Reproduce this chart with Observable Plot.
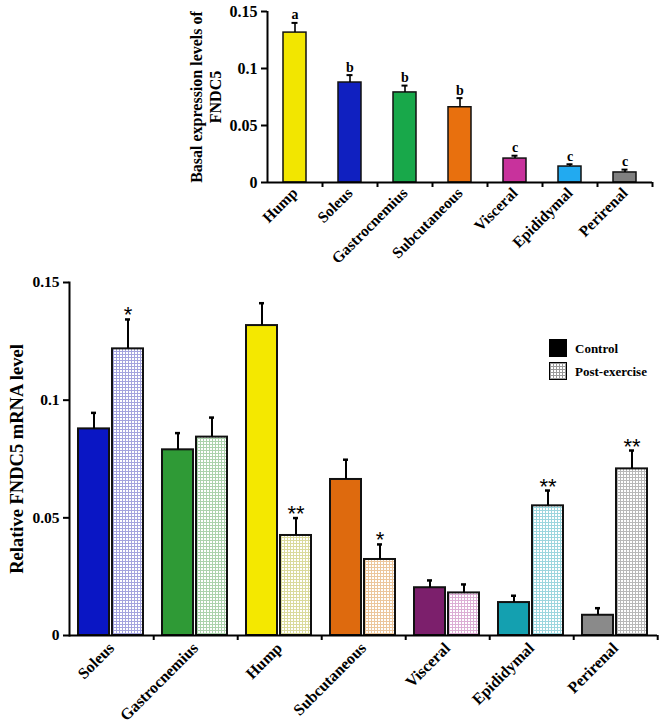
<!DOCTYPE html>
<html><head><meta charset="utf-8">
<script src="https://cdn.jsdelivr.net/npm/d3@7"></script>
<script src="https://cdn.jsdelivr.net/npm/@observablehq/plot@0.6"></script>
<style>
body{margin:0;background:#fff;}
#wrap{position:relative;width:661px;height:725px;font-family:"Liberation Serif",serif;font-weight:bold;color:#000;}
.legend{position:absolute;left:549px;font-size:13px;display:flex;align-items:center;line-height:1;}
.sw{width:18px;height:18px;box-sizing:border-box;border:1.5px solid #000;margin-right:8px;}
.sw.ctrl{background:#000;}
.sw.post{background-color:#fff;background-image:linear-gradient(#9a9a9a 1px,transparent 1px),linear-gradient(90deg,#9a9a9a 1px,transparent 1px);background-size:3px 3px;}
</style></head><body><div id="wrap"></div>
<script>
// ---- Top chart: basal expression ----
const basalTissues = ["Hump","Soleus","Gastrocnemius","Subcutaneous","Visceral","Epididymal","Perirenal"];
const basalMean = [0.1315, 0.0877, 0.079, 0.066, 0.021, 0.014, 0.0088];
const basalErr = [0.0085, 0.0065, 0.006, 0.008, 0.0025, 0.002, 0.0025];
const basalLetters = ["a","b","b","b","c","c","c"];

// ---- Bottom chart: control vs post-exercise ----
const tissues = ["Soleus","Gastrocnemius","Hump","Subcutaneous","Visceral","Epididymal","Perirenal"];
const groups = ["Control","Post-exercise"];
const controlMean = [0.0878,0.0789,0.1317,0.0663,0.0203,0.0140,0.0086];
const controlErr = [0.0068,0.0071,0.0095,0.0084,0.0031,0.0029,0.0030];
const postMean = [0.1218,0.0843,0.0425,0.0323,0.0181,0.0551,0.0708];
const postErr = [0.0125,0.0083,0.0074,0.0064,0.0036,0.0065,0.0078];
const postSig = ["*","","**","*","","**","**"];

const yTicks = [0,0.05,0.1,0.15];
const yTickLabels = ["0","0.05","0.1","0.15"];

// styles
const basalColors = {Hump:"#f2e600",Soleus:"#1020c0",Gastrocnemius:"#18a84a",Subcutaneous:"#e8700e",Visceral:"#c8329c",Epididymal:"#22aaf0",Perirenal:"#808080"};
const controlColors = {Soleus:"#0a16c4",Gastrocnemius:"#2f9a36",Hump:"#f4e800",Subcutaneous:"#de6a0e",Visceral:"#7c1f6c",Epididymal:"#14a0b0",Perirenal:"#8a8a8a"};
const postGrid = {Soleus:"#a4a4de",Gastrocnemius:"#acd2ac",Hump:"#dada9c",Subcutaneous:"#ecc69c",Visceral:"#dcaed4",Epididymal:"#9cd6de",Perirenal:"#b8b8b8"};

const fmt = d => yTickLabels[yTicks.indexOf(d)];
const W = 661;
const baseStyle = {fontFamily:"Liberation Serif", fontWeight:"bold", fontSize:"13px", background:"white", color:"black"};
const wrap = document.getElementById("wrap");

// top
const basal = basalTissues.map((t,i)=>({tissue:t, mean:basalMean[i], hi:basalMean[i]+basalErr[i], letter:basalLetters[i]}));
const tML = 267, tMR = 9;
const topStep = (W - tML - tMR)/basalTissues.length;
const topChart = Plot.plot({
  width: W, height: 273, marginLeft: tML, marginRight: tMR, marginTop: 11, marginBottom: 91,
  style: baseStyle,
  x: {domain: basalTissues, paddingInner: 0.58, paddingOuter: 0.29, label: null},
  y: {domain: [0, 0.15], label: null},
  color: {type: "identity"},
  marks: [
    Plot.barY(basal, {x:"tissue", y:"mean", fill: d => basalColors[d.tissue], stroke:"#111", strokeWidth:1.5}),
    Plot.ruleX(basal, {x:"tissue", y1:"mean", y2:"hi", strokeWidth:1.6}),
    Plot.tickY(basal, {x:"tissue", y:"hi", strokeWidth:2, insetLeft:8.5, insetRight:8.5}),
    Plot.text(basal, {x:"tissue", y:"hi", text:"letter", dy:-8, lineAnchor:"middle", fontSize:14}),
    Plot.ruleY([0], {strokeWidth:2}),
    Plot.ruleX([basalTissues[0]], {y1:0, y2:0.15, dx:-topStep/2, strokeWidth:2}),
    Plot.axisY({ticks: yTicks, tickFormat: fmt, tickSize: 6, tickPadding: 4, fontSize: 16, strokeWidth: 2, label: null}),
    Plot.axisX({tickSize: 5, tickFormat: () => "", dx: topStep/2, strokeWidth: 2, label: null}),
    Plot.axisX({tickSize: 0, tickRotate: -45, tickPadding: 8, fontSize: 15.5, label: null}),
    Plot.text(["Basal expression levels of\nFNDC5"], {frameAnchor:"left", textAnchor:"middle", rotate:-90, dx:-62, fontSize:16, lineHeight:1.15})
  ]
});
wrap.appendChild(topChart);

// bottom
const rows = tissues.flatMap((t,i)=>[
  {tissue:t, group:groups[0], mean:controlMean[i], hi:controlMean[i]+controlErr[i], sig:""},
  {tissue:t, group:groups[1], mean:postMean[i], hi:postMean[i]+postErr[i], sig:postSig[i]}
]);
const bML = 67, bMR = 3;
const botStep = (W - bML - bMR)/tissues.length;
const botChart = Plot.plot({
  width: W, height: 452, marginLeft: bML, marginRight: bMR, marginTop: 9, marginBottom: 90,
  style: baseStyle,
  fx: {domain: tissues, padding: 0, label: null},
  x: {domain: groups, paddingInner: 0.0857, paddingOuter: 0.249, axis: null},
  y: {domain: [0, 0.15], label: null},
  color: {type: "identity"},
  marks: [
    Plot.barY(rows, {fx:"tissue", x:"group", y:"mean", fill: d => d.group === groups[0] ? controlColors[d.tissue] : `url(#grid-${tissues.indexOf(d.tissue)})`, stroke:"#111", strokeWidth:2}),
    Plot.ruleX(rows, {fx:"tissue", x:"group", y1:"mean", y2:"hi", strokeWidth:2}),
    Plot.tickY(rows, {fx:"tissue", x:"group", y:"hi", strokeWidth:2.5, insetLeft:13, insetRight:13}),
    Plot.text(rows.filter(d => d.sig), {fx:"tissue", x:"group", y:"hi", text:"sig", dy:-4, lineAnchor:"middle", fontSize:22, fontFamily:"Liberation Sans", fontWeight:"normal"}),
    Plot.ruleY([0], {strokeWidth:2}),
    Plot.axisY({ticks: yTicks, tickFormat: fmt, tickSize: 6, tickPadding: 4, fontSize: 15.5, strokeWidth: 2, label: null}),
    Plot.frame({anchor:"left", facetAnchor:"left", strokeWidth:2}),
    Plot.axisFx({anchor:"bottom", tickSize: 5, tickFormat: () => "", dx: botStep/2, strokeWidth: 2, label: null}),
    Plot.axisFx({anchor:"bottom", tickSize: 0, tickRotate: -45, tickPadding: 10, fontSize: 16, label: null}),
    Plot.text(["Relative FNDC5 mRNA level"], {frameAnchor:"left", textAnchor:"middle", rotate:-90, dx:-52, fontSize:18.5, facetAnchor:"left"})
  ]
});
const defs = d3.select(botChart).insert("defs", ":first-child");
tissues.forEach((t,i) => {
  const p = defs.append("pattern").attr("id", `grid-${i}`).attr("patternUnits","userSpaceOnUse").attr("width",3).attr("height",3);
  p.append("rect").attr("width",3).attr("height",3).attr("fill","#fff");
  p.append("path").attr("d","M0,0.5H3M0.5,0V3").attr("stroke", postGrid[t]).attr("stroke-width",1).attr("fill","none");
});
wrap.appendChild(botChart);

// legend
const leg = [["ctrl", groups[0], 339], ["post", groups[1], 362]];
leg.forEach(([cls, label, top]) => {
  const d = document.createElement("div");
  d.className = "legend"; d.style.top = top + "px";
  d.innerHTML = `<div class="sw ${cls}"></div><span>${label}</span>`;
  wrap.appendChild(d);
});
</script></body></html>
